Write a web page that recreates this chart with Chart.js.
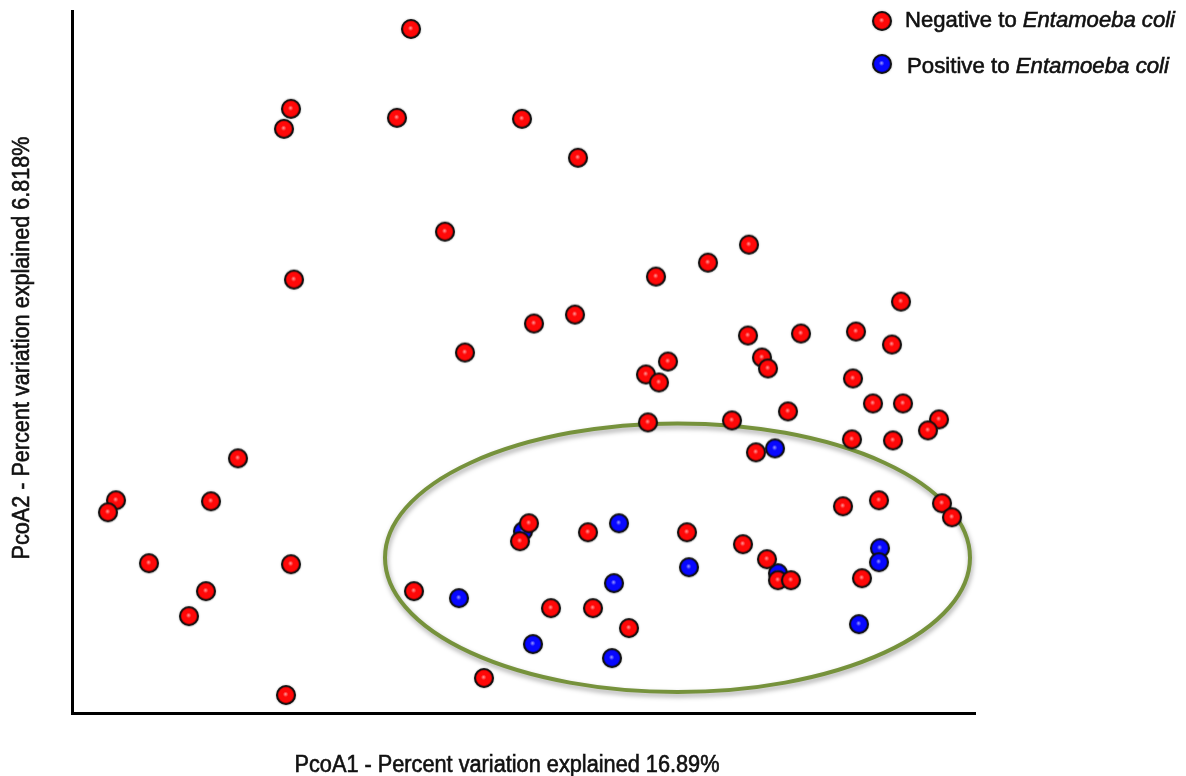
<!DOCTYPE html>
<html><head><meta charset="utf-8">
<script src="https://cdn.jsdelivr.net/npm/chart.js@4/dist/chart.umd.min.js"></script>
<style>html,body{margin:0;padding:0;background:#fff;}#wrap{width:1186px;height:776px;position:relative;}</style>
</head><body><div id="wrap"><canvas id="c"></canvas></div>
<script>
// Negative to Entamoeba coli (red)
const negX = [339,219,212,325,450,506,373,222,393,462,503,677,636,584,829,676,729,784,820,596,574,587,690,696,781,801,831,716,867,856,576,660,780,821,684,166,44,36,139,77,219,134,117,214,457,448,516,342,479,521,557,412,615,671,695,706,719,771,807,870,880,790];
const negY = [685,605,585,596,595,556,482,434,361,390,399,469,451,437,412,378,380,382,369,352,339,331,356,345,335,310,310,302,294,283,291,293,274,273,261,255,213,201,212,150,149,122,97,18,190,172,181,122,105,105,85,35,181,169,154,133,133,207,213,210,196,135];
// Positive to Entamoeba coli (blue)
const posX = [703,451,547,387,542,461,540,617,706,808,807,787];
const posY = [265,182,190,115,130,69,55,146,140,165,151,89];

const seriesPrefix = ['Negative to ', 'Positive to '];
const speciesName = 'Entamoeba coli';
const xTitle = 'PcoA1 - Percent variation explained 16.89%';
const yTitle = 'PcoA2 - Percent variation explained 6.818%';
const xRange = [0, 903];
const yRange = [0, 703];
// highlighted group ellipse (data units)
const ellipseCenter = [605.5, 155.5];
const ellipseRadii = [292.5, 134.5];

function sphere(main, light, dark) {
  const s = 24, c = document.createElement('canvas');
  c.width = c.height = s;
  const g = c.getContext('2d');
  const cx = 12, cy = 12, r = 10;
  g.shadowColor = 'rgba(0,0,0,0.35)'; g.shadowBlur = 2;
  g.beginPath(); g.arc(cx, cy, r, 0, Math.PI * 2); g.fillStyle = '#111'; g.fill();
  g.shadowBlur = 0;
  const grd = g.createRadialGradient(cx - 0.5, cy - 1, 0.3, cx, cy, r - 1.6);
  grd.addColorStop(0, light); grd.addColorStop(0.3, main); grd.addColorStop(0.8, main); grd.addColorStop(1, dark);
  g.beginPath(); g.arc(cx, cy, r - 1.8, 0, Math.PI * 2); g.fillStyle = grd; g.fill();
  return c;
}
const redBall = sphere('#ff0808', '#ff8c8c', '#900000');
const blueBall = sphere('#0808ff', '#8c8cff', '#000090');

function squeezeText(ctx, text, x, y, w) {
  const m = ctx.measureText(text).width;
  ctx.save(); ctx.translate(x, y); ctx.scale(w / m, 1);
  ctx.fillText(text, 0, 0); ctx.strokeText(text, 0, 0);
  ctx.restore();
}

const decor = {
  id: 'decor',
  beforeDatasetsDraw(chart) {
    const ctx = chart.ctx, xs = chart.scales.x, ys = chart.scales.y;
    const cx = xs.getPixelForValue(ellipseCenter[0]), cy = ys.getPixelForValue(ellipseCenter[1]);
    const rx = Math.abs(xs.getPixelForValue(ellipseCenter[0] + ellipseRadii[0]) - cx);
    const ry = Math.abs(ys.getPixelForValue(ellipseCenter[1] + ellipseRadii[1]) - cy);
    ctx.save();
    ctx.shadowColor = 'rgba(0,0,0,0.35)'; ctx.shadowBlur = 5; ctx.shadowOffsetX = 1; ctx.shadowOffsetY = 3;
    ctx.strokeStyle = '#76923c'; ctx.lineWidth = 4;
    ctx.beginPath(); ctx.ellipse(cx, cy, rx, ry, 0, 0, Math.PI * 2); ctx.stroke();
    ctx.restore();
  },
  afterDraw(chart) {
    const ctx = chart.ctx;
    ctx.save();
    ctx.fillStyle = '#111'; ctx.strokeStyle = '#111'; ctx.lineWidth = 0.6;
    ctx.font = '23px "Liberation Sans", Arial, sans-serif';
    ctx.textAlign = 'center'; ctx.textBaseline = 'alphabetic';
    squeezeText(ctx, xTitle, 507, 772, 425);
    ctx.save(); ctx.translate(29, 348); ctx.rotate(-Math.PI / 2);
    squeezeText(ctx, yTitle, 0, 0, 423);
    ctx.restore();
    // legend
    const rows = [[redBall, 882, 21, 905, 27, 270], [blueBall, 882, 64, 907, 73, 262]];
    ctx.textAlign = 'left';
    rows.forEach((r, i) => {
      ctx.drawImage(r[0], r[1] - 12, r[2] - 12);
      const nf = '22px "Liberation Sans", Arial, sans-serif';
      const itf = 'italic 22px "Liberation Sans", Arial, sans-serif';
      ctx.font = nf; const w1 = ctx.measureText(seriesPrefix[i]).width;
      ctx.font = itf; const w2 = ctx.measureText(speciesName).width;
      const k = r[5] / (w1 + w2);
      ctx.save(); ctx.translate(r[3], r[4]); ctx.scale(k, 1);
      ctx.font = nf; ctx.fillText(seriesPrefix[i], 0, 0); ctx.strokeText(seriesPrefix[i], 0, 0);
      ctx.font = itf; ctx.fillText(speciesName, w1, 0); ctx.strokeText(speciesName, w1, 0);
      ctx.restore();
    });
    ctx.restore();
  }
};

const toPts = (xs, ys) => xs.map((x, i) => ({ x, y: ys[i] }));

new Chart(document.getElementById('c'), {
  type: 'scatter',
  data: {
    datasets: [
      { label: seriesPrefix[0] + speciesName, data: toPts(negX, negY), pointStyle: redBall, pointRadius: 10 },
      { label: seriesPrefix[1] + speciesName, data: toPts(posX, posY), pointStyle: blueBall, pointRadius: 10 }
    ]
  },
  options: {
    responsive: true, maintainAspectRatio: false, animation: false, events: [],
    layout: { padding: { left: 72, top: 10, right: 211, bottom: 63 } },
    plugins: { legend: { display: false }, tooltip: { enabled: false } },
    scales: {
      x: { type: 'linear', min: xRange[0], max: xRange[1], ticks: { display: false },
           grid: { display: false, drawTicks: false }, border: { display: true, color: '#000', width: 3 } },
      y: { type: 'linear', min: yRange[0], max: yRange[1], ticks: { display: false },
           grid: { display: false, drawTicks: false }, border: { display: true, color: '#000', width: 3 } }
    }
  },
  plugins: [decor]
});
</script></body></html>
